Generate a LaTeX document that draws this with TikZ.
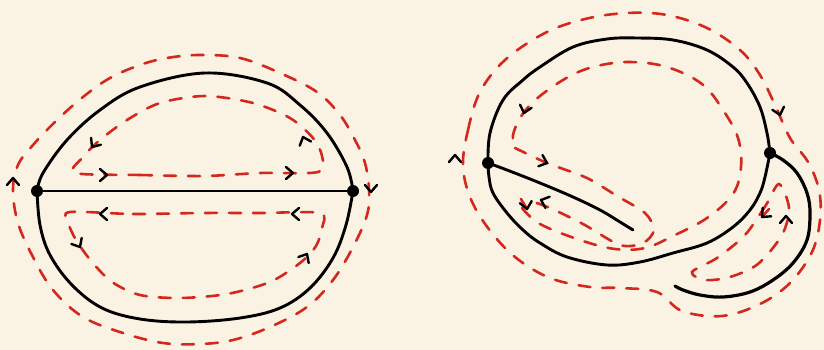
\documentclass[tikz,border=0pt]{standalone}
\definecolor{bgc}{RGB}{250,243,227}
\definecolor{redd}{RGB}{212,40,30}
\begin{document}
\begin{tikzpicture}[x=1pt,y=-1pt,
  edge/.style={line width=2.9pt, black, line cap=round, line join=round},
  bnd/.style={line width=2.6pt, redd, dash pattern=on 12pt off 12pt, line cap=round},
  vtx/.style={circle, fill=black, inner sep=0pt, minimum size=12pt},
  redtick/.style={line width=2.6pt, redd, line cap=round},
  chev/.pic={\draw[line width=2.4pt, black, line cap=round, line join=round] (-7,6) -- (0,0) -- (-7,-6);}
]
\fill[bgc] (0,0) rectangle (824,350);
\useasboundingbox (0,0) rectangle (824,350);

% ---------------- left diagram ----------------
\node[vtx] (L1) at (37,191) {};
\node[vtx] (R1) at (353,191) {};
\draw[edge] (L1) -- (R1);
\draw[edge] plot[smooth, tension=0.6] coordinates {(L1.center) (43,173) (67,140) (100,110) (140,87) (205,73) (267,83) (300,105) (327,133) (347,167) (R1.center)};
\draw[edge] plot[smooth, tension=0.6] coordinates {(L1.center) (40,225) (50,255) (72,285) (102,308) (140,319) (187,322) (240,318) (280,308) (310,288) (333,258) (346,225) (R1.center)};

\draw[bnd] plot[smooth cycle, tension=0.6] coordinates {(200,55) (240,58) (280,73) (317,92) (340,115) (355,140) (365,163) (369,190) (367,215) (353,247) (333,280) (307,307) (270,327) (233,340) (200,344) (163,343) (123,333) (83,317) (53,290) (33,257) (18,223) (13,190) (18,165) (33,145) (57,120) (83,97) (110,78) (140,65) (167,58)};
\draw[bnd] plot[smooth cycle, tension=0.5] coordinates {(75,173) (140,175) (205,176) (260,173) (318,172) (322,156) (313,138) (290,118) (253,103) (205,96) (160,103) (127,120) (100,140) (82,158)};
\draw[bnd] plot[smooth cycle, tension=0.5] coordinates {(70,212) (133,214) (200,213) (260,213) (320,213) (322,228) (316,246) (300,263) (270,282) (227,294) (180,298) (140,295) (112,282) (92,262) (76,240) (68,222)};

\pic[rotate=90] at (13,178) {chev};
\pic[rotate=-90] at (371,192) {chev};
\pic[rotate=0] at (107,175) {chev};
\pic[rotate=0] at (293,173) {chev};
\pic[rotate=110] at (303,137) {chev};
\pic[rotate=235] at (92,147) {chev};
\pic[rotate=180] at (100,214) {chev};
\pic[rotate=180] at (292,214) {chev};
\pic[rotate=-60] at (80,247) {chev};
\pic[rotate=60] at (307,254) {chev};

% ---------------- right diagram ----------------
\node[vtx] (L2) at (488,163) {};
\node[vtx] (R2) at (770,153) {};
\coordinate (C2) at (633,230);
\coordinate (T2) at (675,286);
\draw[edge] plot[smooth, tension=0.6] coordinates {(L2.center) (490,133) (503,100) (523,80) (540,67) (573,47) (607,39) (637,38) (673,40) (707,50) (733,67) (747,83) (760,107) (767,133) (R2.center)};
\draw[edge] plot[smooth, tension=0.6] coordinates {(R2.center) (765,177) (760,193) (750,210) (733,227) (707,243) (673,253) (640,262) (607,265) (567,257) (540,243) (523,230) (507,213) (493,193) (489,177) (L2.center)};
\draw[edge] plot[smooth, tension=0.6] coordinates {(L2.center) (507,170) (540,183) (573,197) (600,210) (620,222) (C2)};
\draw[edge, line width=3.2pt] plot[smooth, tension=0.6] coordinates {(R2.center) (783,160) (797,173) (807,193) (810,213) (807,240) (793,263) (773,280) (750,292) (723,297) (700,295) (683,290) (T2)};

\draw[bnd] plot[smooth cycle, tension=0.6] coordinates {(463,165) (468,130) (480,92) (505,60) (545,33) (585,19) (627,13) (667,15) (707,28) (740,50) (760,75) (775,105) (790,138) (808,162) (819,190) (820,220) (812,252) (790,283) (760,304) (722,316) (682,311) (657,292) (620,288) (590,287) (550,278) (515,257) (488,228) (470,197)};
\draw[bnd] plot[smooth cycle, tension=0.5] coordinates {(779,184) (766,205) (745,235) (717,258) (692,272) (705,280) (730,277) (758,264) (782,235) (789,208)};
\draw[bnd] plot[smooth, tension=0.6] coordinates {(522,208) (540,224) (580,240) (615,249) (645,248) (673,236) (707,218) (733,194) (741,167) (738,138) (723,110) (702,84) (667,67) (630,62) (597,66) (570,76) (540,96) (522,115) (513,135) (515,148)};
\draw[bnd] plot[smooth, tension=0.5] coordinates {(515,148) (547,163) (587,178) (617,196) (645,213) (654,230) (643,243) (620,245) (583,224) (550,208) (528,200)};

\draw[redtick] (521,199) -- (527,209);
\draw[redtick] (769,209) -- (762,217);
\pic[rotate=90] at (455,155) {chev};
\pic[rotate=-75] at (780,115) {chev};
\pic[rotate=-105] at (524,113) {chev};
\pic[rotate=-20] at (547,163) {chev};
\pic[rotate=160] at (541,200) {chev};
\pic[rotate=-80] at (527,209) {chev};
\pic[rotate=225] at (762,217) {chev};
\pic[rotate=90] at (786,216) {chev};
\end{tikzpicture}
\end{document}
